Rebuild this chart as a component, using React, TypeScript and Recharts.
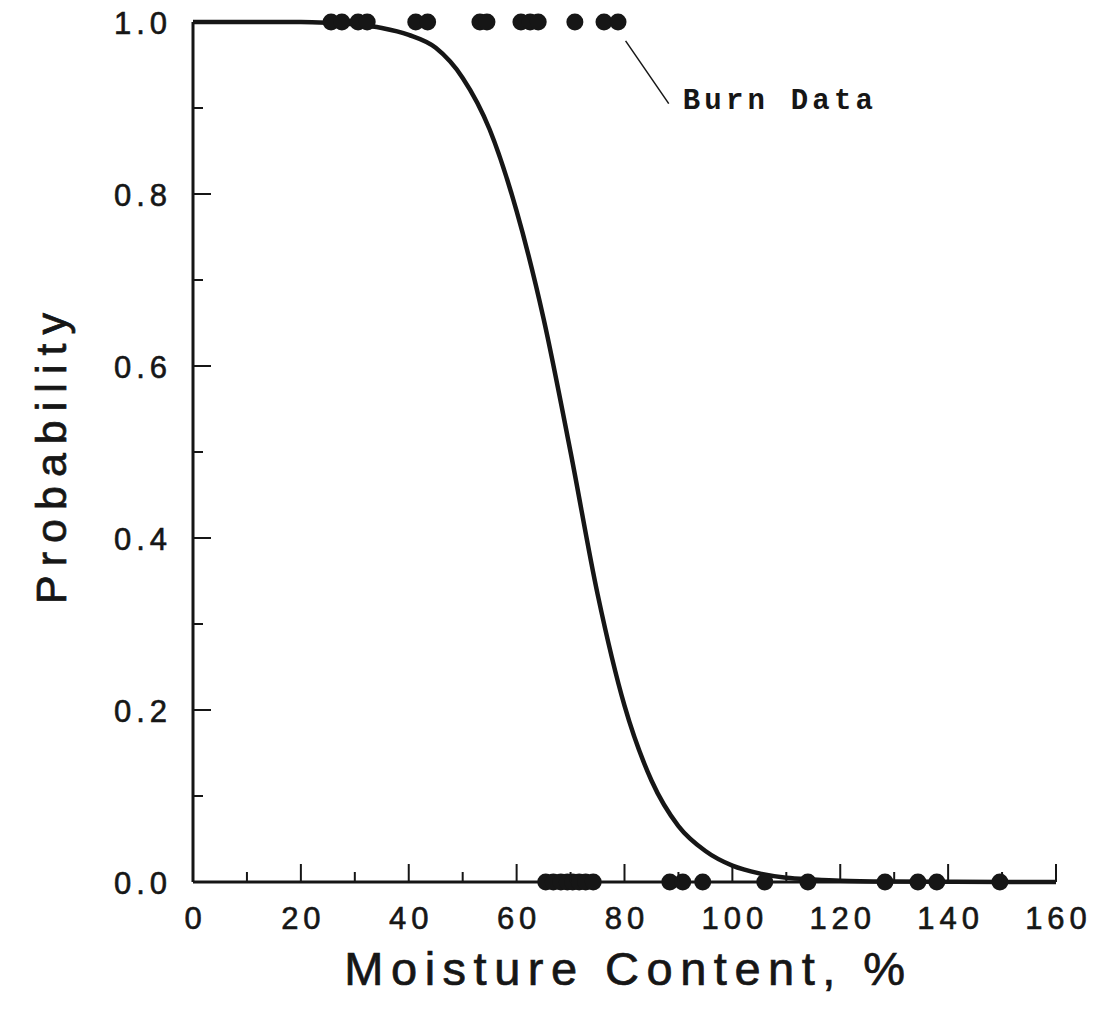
import React from 'react';
import { ComposedChart, Line, Scatter, XAxis, YAxis, ReferenceLine, ReferenceDot } from 'recharts';

// Fitted probability curve
const curveX = [0, 10, 20, 25, 30, 35, 40, 45, 50, 55, 60, 65, 70, 75, 80, 85, 90, 95, 100, 105, 110, 115, 120, 130, 140, 150, 160];
const curveP = [1.0, 1.0, 1.0, 0.999, 0.997, 0.993, 0.985, 0.97, 0.935, 0.875, 0.78, 0.655, 0.5, 0.335, 0.205, 0.118, 0.065, 0.036, 0.019, 0.01, 0.005, 0.003, 0.0015, 0.0005, 0.0002, 0.0001, 0.0];

// Observations that burned (probability 1)
const burnX = [25.6, 27.6, 30.6, 32.3, 41.3, 43.5, 53.2, 54.5, 60.8, 62.5, 64.0, 70.8, 76.2, 78.8];
// Observations that did not burn (probability 0)
const noBurnX = [65.4, 66.8, 68.2, 69.4, 70.4, 71.6, 72.8, 74.2, 88.4, 90.8, 94.5, 106.0, 114.0, 128.3, 134.4, 137.9, 149.6];

const xTicks = [0, 10, 20, 30, 40, 50, 60, 70, 80, 90, 100, 110, 120, 130, 140, 150, 160];
const yTicks = [0, 0.1, 0.2, 0.3, 0.4, 0.5, 0.6, 0.7, 0.8, 0.9, 1.0];

const xTitle = 'Moisture Content, %';
const yTitle = 'Probability';
const annotation = 'Burn Data';

const curve = curveX.map((x, i) => ({ x, p: curveP[i] }));
const burn = burnX.map((x) => ({ x, p: 1 }));
const noBurn = noBurnX.map((x) => ({ x, p: 0 }));

const INK = '#161616';
const SANS = '"Liberation Sans", Arial, sans-serif';

const XTick = (props: any) => {
  const { x, y, payload } = props;
  const v = payload.value;
  const major = v % 20 === 0;
  return (
    <g>
      <line x1={x} x2={x} y1={y} y2={y - (major ? 18 : 10)} stroke={INK} strokeWidth={2} />
      {major && (
        <text x={x + 2.5} y={y + 47} textAnchor="middle" fontFamily={SANS} fontSize={31} letterSpacing={5} fill={INK} stroke={INK} strokeWidth={0.6}>
          {String(v)}
        </text>
      )}
    </g>
  );
};

const YTick = (props: any) => {
  const { x, y, payload } = props;
  const v = payload.value;
  const major = Math.round(v * 10) % 2 === 0;
  return (
    <g>
      <line x1={x} x2={x + (major ? 18 : 10)} y1={y} y2={y} stroke={INK} strokeWidth={2} />
      {major && (
        <text x={x - 21} y={y + 11.5} textAnchor="end" fontFamily={SANS} fontSize={31} letterSpacing={5} fill={INK} stroke={INK} strokeWidth={0.6}>
          {v.toFixed(1)}
        </text>
      )}
    </g>
  );
};

const Dot = (props: any) => <circle cx={props.cx} cy={props.cy} r={8.5} fill={INK} />;

export default function App() {
  return (
    <div style={{ margin: '-8px 0 0 -8px', width: 1117, height: 1018 }}>
      <ComposedChart width={1117} height={1018} margin={{ top: 22, right: 61, bottom: 0, left: 0 }}>
        <XAxis
          type="number"
          dataKey="x"
          domain={[0, 160]}
          ticks={xTicks}
          interval={0}
          height={136}
          tickSize={0}
          tickMargin={0}
          tickLine={false}
          tick={<XTick />}
          axisLine={{ stroke: INK, strokeWidth: 3 }}
          label={{
            content: (p: any) => {
              const vb = p.viewBox;
              return (
                <text x={vb.x + vb.width / 2 + 4} y={vb.y + 103} textAnchor="middle" fontFamily={SANS} fontSize={47} letterSpacing={7.5} fill={INK} stroke={INK} strokeWidth={0.7}>
                  {xTitle}
                </text>
              );
            },
          }}
        />
        <YAxis
          type="number"
          dataKey="p"
          domain={[0, 1]}
          ticks={yTicks}
          interval={0}
          width={193}
          tickSize={0}
          tickMargin={0}
          tickLine={false}
          tick={<YTick />}
          axisLine={{ stroke: INK, strokeWidth: 3 }}
          label={{
            content: (p: any) => {
              const vb = p.viewBox;
              const cx = 66;
              const cy = vb.y + vb.height / 2 + 2;
              return (
                <text x={cx} y={cy} transform={`rotate(-90 ${cx} ${cy})`} textAnchor="middle" fontFamily={SANS} fontSize={43} letterSpacing={9} fill={INK} stroke={INK} strokeWidth={0.7}>
                  {yTitle}
                </text>
              );
            },
          }}
        />
        <Line data={curve} dataKey="p" type="monotone" stroke={INK} strokeWidth={4.5} dot={false} activeDot={false} isAnimationActive={false} />
        <Scatter data={burn} dataKey="p" shape={<Dot />} isAnimationActive={false} />
        <Scatter data={noBurn} dataKey="p" shape={<Dot />} isAnimationActive={false} />
        <ReferenceLine segment={[{ x: 80.2, y: 0.978 }, { x: 88.2, y: 0.905 }]} stroke={INK} strokeWidth={1.5} />
        <ReferenceDot
          x={90.8}
          y={0.911}
          r={0}
          fill="none"
          stroke="none"
          label={{ value: annotation, position: 'right', offset: 0, fill: INK, fontSize: 29, fontWeight: 'bold', fontFamily: '"Liberation Mono", "Courier New", monospace', letterSpacing: 4.2 }}
        />
      </ComposedChart>
    </div>
  );
}
